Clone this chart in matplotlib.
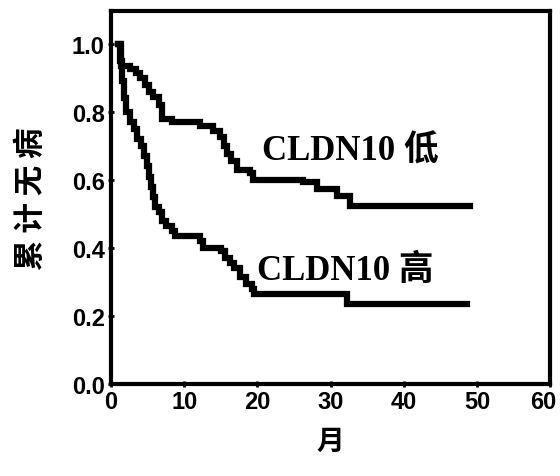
import matplotlib.pyplot as plt

# 无病生存曲线（Kaplan-Meier 阶梯）
months_low = [1.0, 1.4, 2.6, 3.4, 4.0, 4.6, 5.2, 5.8, 6.5, 7.0, 8.3, 12.1, 13.9,
              14.9, 15.4, 15.9, 16.4, 17.2, 19.0, 19.4, 26.2, 28.1, 30.8, 32.6, 49.0]
surv_low = [1.0, 0.935, 0.925, 0.915, 0.90, 0.88, 0.86, 0.845, 0.82, 0.78, 0.77, 0.76, 0.745,
            0.725, 0.70, 0.675, 0.655, 0.63, 0.62, 0.60, 0.594, 0.574, 0.553, 0.524, 0.524]

months_high = [1.0, 1.3, 1.5, 1.8, 2.0, 2.6, 3.2, 3.6, 4.1, 4.5, 4.9, 5.2, 5.5, 5.8, 6.0,
               6.5, 7.0, 7.5, 8.3, 8.8, 12.1, 12.6, 15.0, 15.6, 16.2, 16.8, 17.6, 18.4,
               19.2, 19.6, 32.2, 48.6]
surv_high = [1.0, 0.95, 0.89, 0.84, 0.80, 0.77, 0.75, 0.72, 0.70, 0.67, 0.64, 0.61, 0.58,
             0.55, 0.52, 0.505, 0.48, 0.465, 0.45, 0.435, 0.42, 0.40, 0.39, 0.37, 0.355,
             0.34, 0.315, 0.295, 0.28, 0.265, 0.235, 0.235]

x_ticks = [0, 10, 20, 30, 40, 50, 60]
y_ticks = [0.0, 0.2, 0.4, 0.6, 0.8, 1.0]

cjk = ['Noto Sans CJK SC', 'DejaVu Sans']
label_font = ['Liberation Serif', 'Noto Sans CJK SC']
tick_kw = dict(family='Liberation Sans', fontweight='bold', fontsize=17)

fig = plt.figure(figsize=(5.6, 4.77), dpi=100)
ax = fig.add_axes([0.198, 0.193, 0.785, 0.782])

for t, s in [(months_low, surv_low), (months_high, surv_high)]:
    ax.plot(t, s, drawstyle='steps-post', color='black', linewidth=4.5,
            solid_joinstyle='miter')

ax.text(20.6, 0.685, 'CLDN10 低', family=label_font, fontweight='bold', fontsize=25,
        va='center', ha='left')
ax.text(20.0, 0.333, 'CLDN10 高', family=label_font, fontweight='bold', fontsize=25,
        va='center', ha='left')

ax.set_xlim(0, 60)
ax.set_ylim(0, 1.097)
ax.set_xticks(x_ticks)
ax.set_yticks(y_ticks)
# 最右侧的刻度标签单独放置，稍向左移以免贴边被裁
ax.set_xticklabels([str(v) for v in x_ticks[:-1]] + [''], **tick_kw)
ax.set_yticklabels([f'{v:.1f}' for v in y_ticks], **tick_kw)
ax.annotate(str(x_ticks[-1]), xy=(x_ticks[-1], 0), xycoords='data',
            xytext=(-5, -4.5), textcoords='offset points', ha='center', va='top',
            annotation_clip=False, **tick_kw)

ax.tick_params(direction='inout', length=5, width=2, pad=2)
for sp in ax.spines.values():
    sp.set_linewidth(3)

ax.set_xlabel('月', family=cjk, fontweight='bold', fontsize=20, labelpad=10)
ax.set_ylabel('累 计 无 病', family=cjk, fontweight='bold', fontsize=22, labelpad=18)

fig.savefig('out.png', dpi=100)
